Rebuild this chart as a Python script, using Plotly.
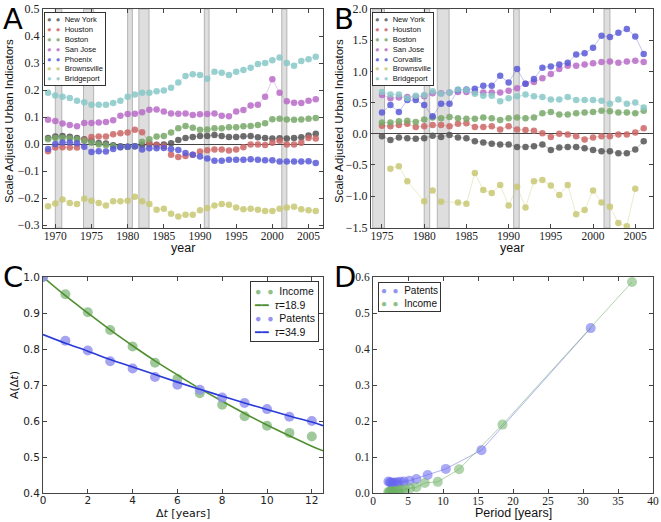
import plotly.graph_objects as go

# ---- panel A / B : scale adjusted indicators ----
years_a = list(range(1969, 2007))
years_b = list(range(1975, 2007))

ny_a = [0.022, 0.028, 0.030, 0.027, 0.022, 0.018, 0.012, 0.004, 0.002, -0.005,
        -0.008, -0.010, -0.008, -0.003, 0.000, -0.003, -0.002, 0.003, 0.015, 0.022,
        0.026, 0.030, 0.030, 0.033, 0.030, 0.026, 0.026, 0.029, 0.030, 0.025,
        0.022, 0.020, 0.021, 0.020, 0.022, 0.025, 0.032, 0.038]
houston_a = [-0.027, -0.013, -0.012, -0.013, -0.013, 0.015, 0.026, 0.028, 0.028, 0.036,
             0.040, 0.043, 0.053, 0.044, 0.005, -0.004, -0.008, -0.040, -0.048, -0.044,
             -0.040, -0.028, -0.023, -0.020, -0.020, -0.024, -0.020, -0.012, -0.002, -0.002,
             -0.004, 0.005, 0.012, -0.002, -0.002, 0.005, 0.022, 0.020]
boston_a = [0.018, 0.022, 0.022, 0.020, 0.018, 0.012, 0.005, -0.002, -0.005, -0.008,
            -0.012, -0.010, -0.008, 0.008, 0.018, 0.028, 0.030, 0.043, 0.058, 0.067,
            0.060, 0.053, 0.054, 0.058, 0.058, 0.062, 0.062, 0.066, 0.067, 0.070,
            0.077, 0.092, 0.094, 0.091, 0.090, 0.091, 0.094, 0.096]
sanjose_a = [0.090, 0.085, 0.076, 0.070, 0.066, 0.078, 0.078, 0.080, 0.082, 0.088,
             0.105, 0.111, 0.112, 0.118, 0.127, 0.128, 0.120, 0.113, 0.112, 0.113,
             0.107, 0.110, 0.111, 0.113, 0.105, 0.103, 0.120, 0.126, 0.143, 0.145,
             0.175, 0.240, 0.190, 0.158, 0.153, 0.152, 0.160, 0.166]
phoenix_a = [-0.018, 0.000, 0.006, 0.006, 0.003, -0.010, -0.030, -0.027, -0.028, -0.018,
             -0.012, -0.010, -0.008, -0.020, -0.016, -0.016, -0.015, -0.018, -0.022, -0.033,
             -0.040, -0.046, -0.054, -0.062, -0.062, -0.058, -0.058, -0.058, -0.056, -0.058,
             -0.060, -0.060, -0.065, -0.065, -0.065, -0.065, -0.064, -0.070]
brownsville_a = [-0.230, -0.220, -0.205, -0.218, -0.222, -0.203, -0.210, -0.218, -0.228, -0.212,
                 -0.212, -0.210, -0.195, -0.212, -0.222, -0.243, -0.240, -0.258, -0.268, -0.262,
                 -0.262, -0.245, -0.237, -0.228, -0.222, -0.225, -0.235, -0.242, -0.240, -0.243,
                 -0.248, -0.248, -0.240, -0.235, -0.232, -0.242, -0.245, -0.248]
bridgeport_a = [0.190, 0.180, 0.175, 0.170, 0.160, 0.155, 0.145, 0.145, 0.145, 0.152,
                0.160, 0.175, 0.183, 0.190, 0.190, 0.195, 0.198, 0.208, 0.228, 0.252,
                0.258, 0.256, 0.242, 0.268, 0.264, 0.256, 0.268, 0.274, 0.282, 0.296,
                0.300, 0.310, 0.320, 0.300, 0.290, 0.307, 0.314, 0.323]

ny_b = [-0.04, -0.10, -0.06, -0.07, -0.08, -0.07, -0.03, -0.05, -0.02, -0.06,
        -0.07, -0.12, -0.14, -0.16, -0.17, -0.17, -0.21, -0.21, -0.20, -0.17,
        -0.26, -0.22, -0.21, -0.21, -0.23, -0.26, -0.28, -0.28, -0.31, -0.31,
        -0.25, -0.12]
houston_b = [0.13, 0.12, 0.14, 0.16, 0.11, 0.12, 0.14, 0.14, 0.12, 0.16,
             0.17, 0.11, 0.11, 0.12, 0.07, 0.12, 0.07, 0.06, 0.05, 0.01,
             -0.05, 0.00, -0.01, -0.04, -0.09, -0.06, -0.04, -0.04, -0.01, -0.01,
             0.02, 0.09]
boston_b = [0.18, 0.18, 0.20, 0.21, 0.19, 0.23, 0.26, 0.25, 0.27, 0.25,
            0.24, 0.24, 0.26, 0.25, 0.22, 0.25, 0.26, 0.25, 0.26, 0.33,
            0.35, 0.31, 0.31, 0.33, 0.34, 0.35, 0.37, 0.36, 0.34, 0.34,
            0.33, 0.37]
sanjose_b = [0.62, 0.57, 0.58, 0.59, 0.59, 0.60, 0.65, 0.65, 0.66, 0.67,
             0.67, 0.67, 0.66, 0.66, 0.66, 0.69, 0.73, 0.80, 0.83, 0.89,
             0.96, 1.04, 1.09, 1.09, 1.11, 1.13, 1.15, 1.16, 1.14, 1.16,
             1.17, 1.15]
corvallis_b = [0.34, 0.46, 0.35, 0.54, 0.54, 0.46, 0.28, 0.48, 0.48, 0.70,
               0.71, 0.72, 0.77, 0.77, 0.93, 0.82, 1.04, 0.80, 0.88, 1.06,
               1.08, 1.11, 1.14, 1.27, 1.29, 1.38, 1.57, 1.55, 1.62, 1.68,
               1.56, 1.28]
brownsville_b = [None, -0.56, -0.52, -0.76, None, -1.08, -0.91, -1.09, None, -1.10,
                 -1.12, -0.63, -0.90, -0.95, -0.82, -1.15, -0.85, -1.18, -0.76, -0.74,
                 -0.83, -0.98, -0.82, -1.29, -1.22, -0.91, -1.10, -1.17, -1.43, -1.48,
                 -0.88, None]
bridgeport_b = [0.67, 0.63, 0.63, 0.57, 0.61, 0.62, 0.68, 0.64, 0.66, 0.71,
                0.70, 0.64, 0.61, 0.61, 0.52, 0.57, 0.60, 0.63, 0.60, 0.59,
                0.55, 0.55, 0.59, 0.54, 0.54, 0.54, 0.53, 0.48, 0.55, 0.48,
                0.50, 0.42]

recessions = [(1970.0, 1970.9), (1973.9, 1975.3), (1980.0, 1980.65),
              (1981.55, 1982.95), (1990.6, 1991.25), (2001.3, 2002.0)]

# ---- panel C : autocorrelation ----
lag = list(range(0, 13))
acf_income = [1.0, 0.952, 0.902, 0.853, 0.807, 0.762, 0.717, 0.677, 0.645, 0.613, 0.587, 0.567, 0.557]
acf_patents = [1.0, 0.823, 0.796, 0.766, 0.746, 0.722, 0.701, 0.687, 0.665, 0.650, 0.633, 0.612, 0.600]
fit_t = [0, 1, 2, 3, 4, 5, 6, 7, 8, 9, 10, 11, 12, 12.5]
fit_income = [1.0, 0.948, 0.900, 0.853, 0.809, 0.767, 0.728, 0.690, 0.655, 0.621, 0.589, 0.559, 0.530, 0.517]
fit_patents = [0.840, 0.816, 0.794, 0.771, 0.750, 0.729, 0.708, 0.688, 0.669, 0.650, 0.632, 0.614, 0.597, 0.587]

# ---- panel D : spectrum ----
period_patents = [31.1, 15.5, 10.4, 7.8, 6.2, 5.2, 4.4, 3.9, 3.5, 3.1, 2.8, 2.6, 2.4, 2.2]
power_patents = [0.458, 0.119, 0.067, 0.050, 0.039, 0.034, 0.032, 0.031, 0.030, 0.029, 0.028, 0.029, 0.030, 0.032]
period_income = [37.0, 18.5, 12.3, 9.25, 7.4, 6.2, 5.3, 4.6, 4.1, 3.7, 3.4, 3.1, 2.85, 2.64, 2.47, 2.31, 2.18]
power_income = [0.586, 0.190, 0.066, 0.031, 0.028, 0.016, 0.013, 0.010, 0.008, 0.007, 0.006, 0.005, 0.005, 0.004, 0.004, 0.003, 0.003]

col = {
    'New York': (85, 85, 85), 'Houston': (204, 102, 102), 'Boston': (120, 168, 104),
    'San Jose': (184, 108, 200), 'Phoenix': (90, 90, 216), 'Corvallis': (90, 90, 216),
    'Brownsville': (200, 200, 116), 'Bridgeport': (136, 200, 200),
}


def rgb(c, a=1.0):
    return 'rgba(%d,%d,%d,%.2f)' % (c[0], c[1], c[2], a)


green = '#8fc08a'
blue = '#9494ee'

serif = 'Liberation Serif'
sans = 'Liberation Sans'
dvs = 'DejaVu Sans'

W, H = 661, 522


def px(x, y):
    return x / W, 1 - y / H


fig = go.Figure()


def city(x, y, name, xa, ya):
    fig.add_trace(go.Scatter(
        x=x, y=y, name=name, mode='lines+markers', connectgaps=True,
        xaxis=xa, yaxis=ya, showlegend=False,
        line=dict(color=rgb(col[name], 0.45), width=0.8),
        marker=dict(color=rgb(col[name], 0.85), size=6.5),
    ))


series_a = [('New York', ny_a), ('Houston', houston_a), ('Boston', boston_a),
            ('San Jose', sanjose_a), ('Phoenix', phoenix_a),
            ('Brownsville', brownsville_a), ('Bridgeport', bridgeport_a)]
series_b = [('New York', ny_b), ('Houston', houston_b), ('Boston', boston_b),
            ('San Jose', sanjose_b), ('Corvallis', corvallis_b),
            ('Brownsville', brownsville_b), ('Bridgeport', bridgeport_b)]

for name, ys in series_a:
    city(years_a, ys, name, 'x', 'y')
for name, ys in series_b:
    city(years_b, ys, name, 'x2', 'y2')

# panel C
fig.add_trace(go.Scatter(x=lag, y=acf_income, mode='markers', xaxis='x3', yaxis='y3',
                         marker=dict(color=green, size=10, opacity=0.85), showlegend=False))
fig.add_trace(go.Scatter(x=fit_t, y=fit_income, mode='lines', line_shape='spline',
                         xaxis='x3', yaxis='y3', line=dict(color='#4f8f2f', width=1.6),
                         showlegend=False))
fig.add_trace(go.Scatter(x=lag, y=acf_patents, mode='markers', xaxis='x3', yaxis='y3',
                         marker=dict(color=blue, size=10, opacity=0.85), showlegend=False))
fig.add_trace(go.Scatter(x=fit_t, y=fit_patents, mode='lines', line_shape='spline',
                         xaxis='x3', yaxis='y3', line=dict(color='#2a3ad8', width=1.6),
                         showlegend=False))

# panel D
fig.add_trace(go.Scatter(x=period_patents, y=power_patents, mode='lines+markers',
                         xaxis='x4', yaxis='y4', showlegend=False,
                         line=dict(color='rgba(90,90,230,0.6)', width=0.8),
                         marker=dict(color='rgba(100,100,238,0.55)', size=10)))
fig.add_trace(go.Scatter(x=period_income, y=power_income, mode='lines+markers',
                         xaxis='x4', yaxis='y4', showlegend=False,
                         line=dict(color='rgba(90,160,80,0.6)', width=0.8),
                         marker=dict(color='rgba(110,176,100,0.55)', size=10)))

shapes = []
for xa, ya in [('x', 'y'), ('x2', 'y2')]:
    for x0, x1 in recessions:
        shapes.append(dict(type='rect', xref=xa, yref=ya + ' domain', x0=x0, x1=x1,
                           y0=0, y1=1, fillcolor='#dedede', layer='below',
                           line=dict(color='#b4b4b4', width=1)))


def axis(dom, rng, dtick, font, size, fmt=None, anchor=None, standoff=0):
    d = dict(domain=dom, range=rng, dtick=dtick, showgrid=False, zeroline=False,
             automargin=False, showline=True, linecolor='#444', linewidth=1,
             mirror='ticks', ticks='inside', ticklen=4, tickcolor='#444',
             ticklabelstandoff=standoff,
             tickfont=dict(family=font, size=size, color='#222'), anchor=anchor)
    if fmt:
        d['tickformat'] = fmt
    return d


def xdom(l, r):
    return [px(l, 0)[0], px(r, 0)[0]]


def ydom(t, b):
    return [px(0, b)[1], px(0, t)[1]]


xa_dom = xdom(43, 323)
xb_dom = xdom(371, 653)
xd_dom = xdom(373, 653)
top_dom = ydom(9, 228)
bot_dom = ydom(277, 493)

ya = axis(top_dom, [-0.311, 0.5], 0.1, serif, 12, '.1f', 'x')
ya.update(zeroline=True, zerolinecolor='#444', zerolinewidth=1)
yb = axis(top_dom, [-1.51, 2.0], 0.5, serif, 12, '.1f', 'x2')
yb.update(zeroline=True, zerolinecolor='#444', zerolinewidth=1)

fig.update_layout(
    width=W, height=H,
    margin=dict(l=0, r=0, t=0, b=0),
    paper_bgcolor='white', plot_bgcolor='white',
    xaxis=axis(xa_dom, [1968.3, 2007.0], 5, serif, 11.5, None, 'y', -3),
    yaxis=ya,
    xaxis2=axis(xb_dom, [1973.7, 2007.1], 5, serif, 11.5, None, 'y2', -3),
    yaxis2=yb,
    xaxis3=axis(xa_dom, [0, 12.5], 2, dvs, 10.5, None, 'y3', -3),
    yaxis3=axis(bot_dom, [0.4, 1.0], 0.1, dvs, 10.5, '.1f', 'x3'),
    xaxis4=axis(xd_dom, [0, 40], 5, serif, 11.5, None, 'y4', -3),
    yaxis4=axis(bot_dom, [0, 0.6], 0.1, serif, 11.5, '.1f', 'x4'),
    shapes=shapes,
    showlegend=False,
)


def legend_text(items):
    rows = []
    for label, color, kind in items:
        sym = '●  ●' if kind == 'm' else '━━'
        rows.append('<span style="color:%s">%s</span>  %s' % (color, sym, label))
    return '<br>'.join(rows)


ann = []
for names, x0 in [(series_a, 44), (series_b, 372)]:
    x, y = px(x0, 12)
    ann.append(dict(xref='paper', yref='paper', x=x, y=y, xanchor='left',
                    yanchor='top', align='left', showarrow=False,
                    text=legend_text([(n, rgb(col[n], 0.85), 'm') for n, _ in names]),
                    font=dict(family=sans, size=7.6, color='#111'),
                    bgcolor='white', bordercolor='#333', borderwidth=1, borderpad=2))
x, y = px(319, 281)
ann.append(dict(xref='paper', yref='paper', x=x, y=y, xanchor='right',
                yanchor='top', align='left', showarrow=False,
                text=legend_text([('Income', green, 'm'), ('<i>τ</i>=18.9', '#4f8f2f', 'l'),
                                  ('Patents', blue, 'm'), ('<i>τ</i>=34.9', '#2a3ad8', 'l')]),
                font=dict(family=sans, size=10.5, color='#111'),
                bgcolor='white', bordercolor='#333', borderwidth=1, borderpad=3))
x, y = px(378, 282)
ann.append(dict(xref='paper', yref='paper', x=x, y=y, xanchor='left',
                yanchor='top', align='left', showarrow=False,
                text=legend_text([('Patents', blue, 'm'), ('Income', green, 'm')]),
                font=dict(family=sans, size=10, color='#111'),
                bgcolor='white', bordercolor='#333', borderwidth=1, borderpad=2))

# axis titles
titles = [
    ('year', 183, 248, 0, 12.5, sans),
    ('year', 512, 248, 0, 12.5, sans),
    ('Scale Adjusted Urban Indicators', 9, 121, -90, 11.5, sans),
    ('Scale Adjusted Urban Indicators', 339, 121, -90, 11.5, sans),
    ('Δ<i>t</i> [years]', 183, 513, 0, 11, dvs),
    ('A(Δ<i>t</i>)', 14, 385, -90, 11, dvs),
    ('Period [years]', 513, 513, 0, 12.5, sans),
]
for text, tx, ty, ang, size, fam in titles:
    x, y = px(tx, ty)
    ann.append(dict(xref='paper', yref='paper', x=x, y=y, xanchor='center',
                    yanchor='middle', text=text, textangle=ang, showarrow=False,
                    font=dict(family=fam, size=size, color='#111')))

for letter, lx, ly in [('A', 1, 0), ('B', 332, 0), ('C', 1, 258), ('D', 332, 258)]:
    x, y = px(lx, ly)
    ann.append(dict(xref='paper', yref='paper', x=x, y=y, xanchor='left', yanchor='top',
                    text=letter, showarrow=False,
                    font=dict(family=dvs, size=29, color='black')))

fig.update_layout(annotations=ann)

# drop the browser's default 8px body margin so the figure sits at the page origin
fig.write_html("out.html", config={'displayModeBar': False},
               post_script="document.body.style.margin = '0';")
